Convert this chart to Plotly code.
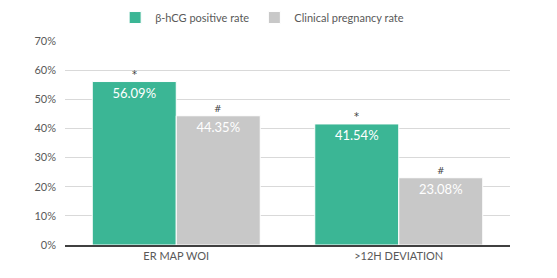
import plotly.graph_objects as go

categories = ["ER MAP WOI", ">12H DEVIATION"]
hcg_rate = [56.09, 41.54]
clin_rate = [44.35, 23.08]
hcg_marks = ["*", "*"]
clin_marks = ["#", "#"]
y_ticks = [0, 10, 20, 30, 40, 50, 60, 70]

GREEN = "#3BB695"
GRAY = "#C8C8C8"
FONT = "Lato, 'Open Sans', sans-serif"

fig = go.Figure()
fig.add_trace(go.Bar(
    name="β-hCG positive rate", x=categories, y=hcg_rate,
    marker=dict(color=GREEN, line=dict(color="white", width=1)),
    text=[f"{v:.2f}%" for v in hcg_rate], textposition="inside",
    insidetextanchor="end", textfont=dict(color="white", size=13, family=FONT),
))
fig.add_trace(go.Bar(
    name="Clinical pregnancy rate", x=categories, y=clin_rate,
    marker=dict(color=GRAY, line=dict(color="white", width=1)),
    text=[f"{v:.2f}%" for v in clin_rate], textposition="inside",
    insidetextanchor="end", textfont=dict(color="white", size=13, family=FONT),
))

for cat, v, m in zip(categories, hcg_rate, hcg_marks):
    fig.add_annotation(x=cat, y=v, text=m, showarrow=False, xshift=-42,
                       yanchor="bottom", yshift=0,
                       font=dict(size=10, color="#404040", family="DejaVu Sans"))
for cat, v, m in zip(categories, clin_rate, clin_marks):
    fig.add_annotation(x=cat, y=v, text=m, showarrow=False, xshift=42,
                       yanchor="bottom", yshift=0,
                       font=dict(size=9, color="#404040", family="DejaVu Sans"))

fig.update_layout(
    width=557, height=278,
    margin=dict(l=65, r=47, t=41, b=33, autoexpand=False),
    paper_bgcolor="white", plot_bgcolor="white",
    barmode="group", bargap=0.245, bargroupgap=0,
    font=dict(family=FONT, color="#595959", size=11),
    legend=dict(orientation="h", x=0.443, xanchor="center", y=1.115,
                yanchor="middle", font=dict(size=11, color="#595959"),
                traceorder="normal"),
    xaxis=dict(showline=True, linecolor="#404040", linewidth=2,
               tickfont=dict(size=11, color="#595959"), ticks=""),
    yaxis=dict(range=[0, 70], tickvals=y_ticks,
               ticktext=[f"{t}%" for t in y_ticks],
               gridcolor="#D9D9D9", gridwidth=1, zeroline=False,
               tickfont=dict(size=11, color="#595959"), ticklabelstandoff=8),
)

fig.write_html("out.html")
